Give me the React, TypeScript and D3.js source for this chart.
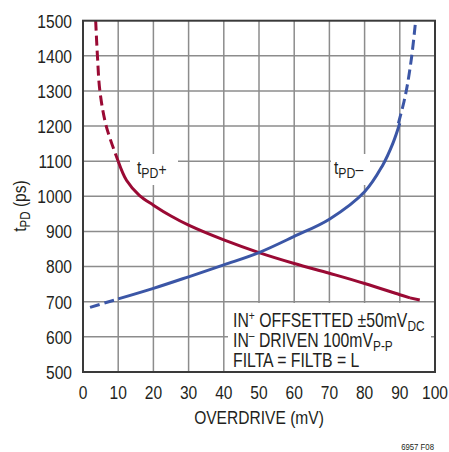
import React from "react";
import * as d3 from "d3";

const xTicks = [0, 10, 20, 30, 40, 50, 60, 70, 80, 90, 100];
const yTicks = [500, 600, 700, 800, 900, 1000, 1100, 1200, 1300, 1400, 1500];

// tPD+ (red)
const redDashA: [number, number][] = [
  [3.6, 1500], [4.1, 1400], [4.8, 1300], [6.6, 1200], [10, 1100],
];
const redSolid: [number, number][] = [
  [10, 1100], [12.4, 1045], [16, 1003], [20, 975], [25, 944], [30, 918],
  [40, 876], [50, 840], [60, 809], [70, 781], [80, 752], [90, 720], [92.9, 711],
];
const redDashB: [number, number][] = [[92.9, 711], [96.9, 702]];

// tPD- (blue)
const blueDashA: [number, number][] = [[2, 684], [10, 708]];
const blueSolid: [number, number][] = [
  [10, 708], [20, 738], [30, 771], [40, 805], [50, 840], [60, 886], [70, 935],
  [80, 1013], [85, 1086], [88, 1150], [90, 1208],
];
const blueDashB: [number, number][] = [
  [89.6, 1208], [91.2, 1270], [92.2, 1320], [93.4, 1400], [94.5, 1500],
];

const RED = "#9a0a34";
const BLUE = "#3b56a6";
const INK = "#231f20";
const FONT = "'Liberation Sans', Arial, sans-serif";

function NT(props: { x: number; y: number; size: number; sx?: number; anchor?: string; rotate?: number; children: React.ReactNode }) {
  const { x, y, size, sx, anchor, rotate, children } = props;
  const tr = `translate(${x},${y})${rotate ? ` rotate(${rotate})` : ""} scale(${sx ?? 0.82},1)`;
  return (
    <text transform={tr} textAnchor={anchor || "start"} fontSize={size} fill={INK}>
      {children}
    </text>
  );
}

export default function App() {
  const L = 83, R = 435, T = 20.7, B = 372;
  const x = d3.scaleLinear().domain([0, 100]).range([L, R]);
  const y = d3.scaleLinear().domain([500, 1500]).range([B, T]);
  const lineC = d3.line<[number, number]>().x(d => x(d[0])).y(d => y(d[1])).curve(d3.curveCatmullRom.alpha(0.5));
  const lineL = d3.line<[number, number]>().x(d => x(d[0])).y(d => y(d[1]));

  return (
    <svg width={449} height={452} style={{ position: "absolute", left: 0, top: 0, background: "#fff" }} fontFamily={FONT}>
      <rect x={0} y={0} width={449} height={452} fill="#fff" />
      {/* grid */}
      {xTicks.slice(1, -1).map(t => (
        <line key={"gx" + t} x1={x(t)} x2={x(t)} y1={T} y2={B} stroke="#8c8c8c" strokeWidth={1.5} />
      ))}
      {yTicks.slice(1, -1).map(t => (
        <line key={"gy" + t} x1={L} x2={R} y1={y(t)} y2={y(t)} stroke="#8c8c8c" strokeWidth={1.5} />
      ))}
      {/* label boxes */}
      <rect x={130} y={154} width={48} height={31} fill="#fff" />
      <rect x={331} y={154} width={39} height={31} fill="#fff" />
      {/* legend box */}
      <rect x={228} y={303} width={203} height={68} fill="#fff" />
      {/* curves */}
      <path d={lineC(redDashA) || ""} fill="none" stroke={RED} strokeWidth={3} strokeDasharray="10 5" />
      <path d={lineC(redSolid) || ""} fill="none" stroke={RED} strokeWidth={3} />
      <path d={lineL(redDashB) || ""} fill="none" stroke={RED} strokeWidth={3} strokeDasharray="10 5" />
      <path d={lineL(blueDashA) || ""} fill="none" stroke={BLUE} strokeWidth={3} strokeDasharray="10 5" />
      <path d={lineC(blueSolid) || ""} fill="none" stroke={BLUE} strokeWidth={3} />
      <path d={lineC(blueDashB) || ""} fill="none" stroke={BLUE} strokeWidth={3} strokeDasharray="10 5" />
      {/* frame */}
      <rect x={L} y={T} width={R - L} height={B - T} fill="none" stroke="#3a3a3a" strokeWidth={2} />
      {/* y ticks */}
      {yTicks.map(t => (
        <NT key={"yt" + t} x={72} y={y(t) + 6.8} size={19} anchor="end">{t}</NT>
      ))}
      {xTicks.map(t => (
        <NT key={"xt" + t} x={x(t)} y={399} size={19} anchor="middle">{t}</NT>
      ))}
      <NT x={259} y={424} size={19} anchor="middle">OVERDRIVE (mV)</NT>
      <NT x={26} y={206} size={19} anchor="middle" rotate={-90}>
        t<tspan fontSize={14} dy={4}>PD</tspan><tspan dy={-4} fontSize={19}> (ps)</tspan>
      </NT>
      {/* curve labels */}
      <NT x={137} y={174} size={19}>
        t<tspan fontSize={15} dy={4}>PD</tspan><tspan fontSize={17} dy={-3}>+</tspan>
      </NT>
      <NT x={334} y={174} size={19}>
        t<tspan fontSize={15} dy={4}>PD</tspan><tspan fontSize={17} dy={-3}>–</tspan>
      </NT>
      {/* legend */}
      <NT x={233} y={327} size={20} sx={0.79}>
        IN<tspan fontSize={13} dy={-7}>+</tspan><tspan dy={7}> OFFSETTED ±50mV</tspan><tspan fontSize={15} dy={4}>DC</tspan>
      </NT>
      <NT x={233} y={347} size={20} sx={0.79}>
        IN<tspan fontSize={13} dy={-7}>–</tspan><tspan dy={7}> DRIVEN 100mV</tspan><tspan fontSize={15} dy={4}>P-P</tspan>
      </NT>
      <NT x={233} y={367} size={20} sx={0.79}>FILTA = FILTB = L</NT>
      <NT x={434} y={450} size={9.5} anchor="end">6957 F08</NT>
    </svg>
  );
}
